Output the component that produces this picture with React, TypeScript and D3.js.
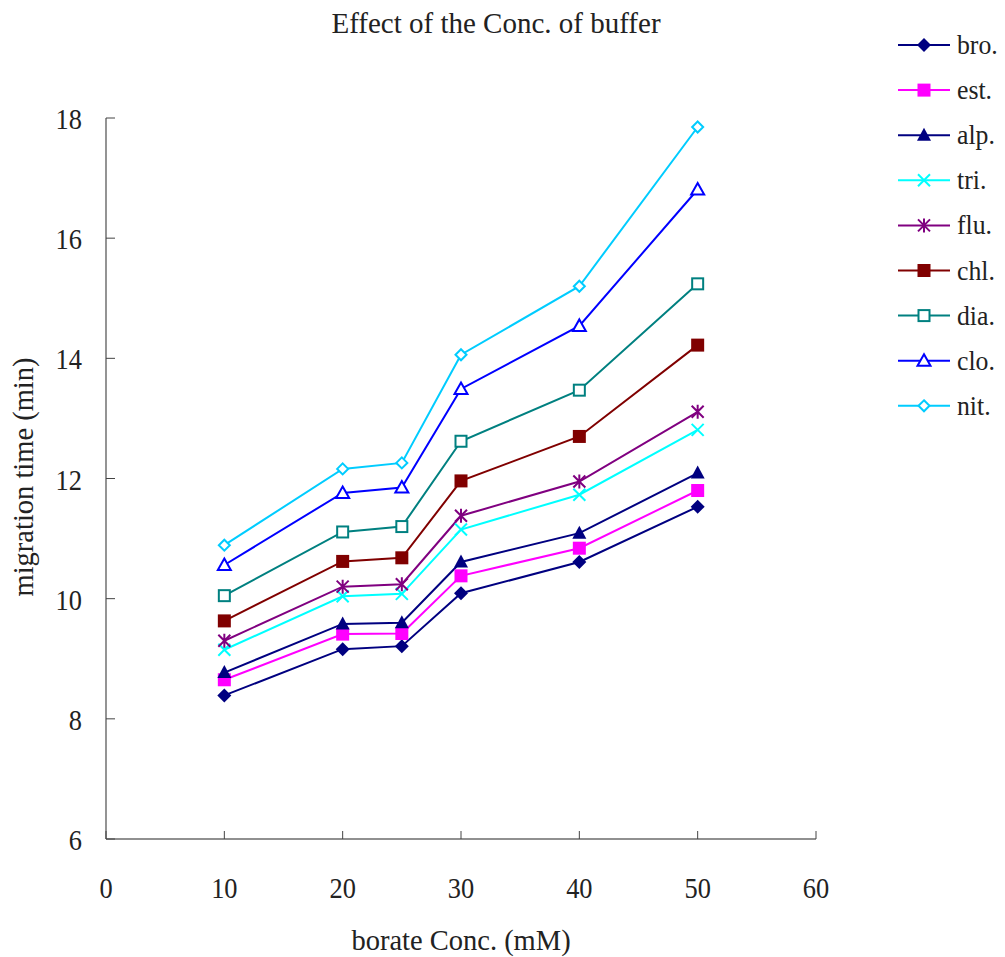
import React from "react";
import * as d3 from "d3";

const concentrations = [10, 20, 25, 30, 40, 50];

const seriesNames = ["bro.", "est.", "alp.", "tri.", "flu.", "chl.", "dia.", "clo.", "nit."];

const bro = [8.39, 9.16, 9.21, 10.09, 10.61, 11.53];
const est = [8.65, 9.41, 9.42, 10.38, 10.84, 11.8];
const alp = [8.77, 9.58, 9.6, 10.61, 11.09, 12.09];
const tri = [9.15, 10.04, 10.08, 11.15, 11.73, 12.81];
const flu = [9.3, 10.2, 10.24, 11.38, 11.95, 13.11];
const chl = [9.63, 10.62, 10.68, 11.96, 12.7, 14.22];
const dia = [10.05, 11.11, 11.2, 12.62, 13.47, 15.24];
const clo = [10.56, 11.76, 11.85, 13.49, 14.54, 16.81];
const nit = [10.89, 12.16, 12.26, 14.06, 15.2, 17.85];

const xTicks = [0, 10, 20, 30, 40, 50, 60];
const yTicks = [6, 8, 10, 12, 14, 16, 18];

type MarkerKind = "diamond" | "square" | "triangle" | "x" | "star" | "squareOpen" | "triangleOpen" | "diamondOpen";

const styles: { color: string; marker: MarkerKind }[] = [
  { color: "#000080", marker: "diamond" },
  { color: "#FF00FF", marker: "square" },
  { color: "#000080", marker: "triangle" },
  { color: "#00FFFF", marker: "x" },
  { color: "#800080", marker: "star" },
  { color: "#800000", marker: "square" },
  { color: "#008080", marker: "squareOpen" },
  { color: "#0000FF", marker: "triangleOpen" },
  { color: "#00CCFF", marker: "diamondOpen" },
];

const allSeries = [bro, est, alp, tri, flu, chl, dia, clo, nit];

const FONT = "'Liberation Serif', 'DejaVu Serif', serif";

// Narrow serif text: drawn at a size, then squeezed horizontally.
function NarrowText({
  x,
  y,
  size,
  squeeze,
  anchor,
  children,
}: {
  x: number;
  y: number;
  size: number;
  squeeze: number;
  anchor: "start" | "middle" | "end";
  children: React.ReactNode;
}) {
  return (
    <text
      transform={`translate(${x},${y}) scale(${squeeze},1)`}
      textAnchor={anchor}
      fontFamily={FONT}
      fontSize={size}
      fill="#222"
    >
      {children}
    </text>
  );
}

function Marker({ kind, color, x, y }: { kind: MarkerKind; color: string; x: number; y: number }) {
  const t = `translate(${x},${y})`;
  switch (kind) {
    case "diamond":
      return <path transform={t} d="M0,-7L7,0L0,7L-7,0Z" fill={color} />;
    case "diamondOpen":
      return <path transform={t} d="M0,-5.5L5.5,0L0,5.5L-5.5,0Z" fill="white" stroke={color} strokeWidth={2} />;
    case "square":
      return <rect transform={t} x={-6.5} y={-6.5} width={13} height={13} fill={color} />;
    case "squareOpen":
      return <rect transform={t} x={-5.5} y={-5.5} width={11} height={11} fill="white" stroke={color} strokeWidth={2} />;
    case "triangle":
      return <path transform={t} d="M0,-7.5L7,5.5L-7,5.5Z" fill={color} />;
    case "triangleOpen":
      return <path transform={t} d="M0,-6.5L6.5,5L-6.5,5Z" fill="white" stroke={color} strokeWidth={2} />;
    case "x":
      return <path transform={t} d="M-6,-6L6,6M-6,6L6,-6" stroke={color} strokeWidth={2} fill="none" />;
    case "star":
      return <path transform={t} d="M-6,-6L6,6M-6,6L6,-6M0,-7L0,7" stroke={color} strokeWidth={2} fill="none" />;
  }
}

export default function App() {
  const width = 1005;
  const height = 957;
  const x = d3.scaleLinear().domain([0, 60]).range([106, 816]);
  const y = d3.scaleLinear().domain([6, 18]).range([839, 118]);
  const line = d3
    .line<number>()
    .x((_, i) => x(concentrations[i]))
    .y((d) => y(d));

  const legendX = 898;
  const legendY0 = 45;
  const legendStep = 45.1;

  return (
    <svg
      width={width}
      height={height}
      style={{ position: "absolute", left: 0, top: 0, background: "white" }}
    >
      <rect width={width} height={height} fill="white" />
      <NarrowText x={496} y={33} size={29} squeeze={1} anchor="middle">
        Effect of the Conc. of buffer
      </NarrowText>

      {/* axes */}
      <line x1={x(0)} x2={x(60)} y1={y(6)} y2={y(6)} stroke="#222" strokeWidth={1.2} />
      <line x1={x(0)} x2={x(0)} y1={y(6)} y2={y(18)} stroke="#666" strokeWidth={1.4} />
      {xTicks.map((t) => (
        <g key={"xt" + t}>
          <line x1={x(t)} x2={x(t)} y1={y(6)} y2={y(6) - 8} stroke="#444" strokeWidth={1} />
          <NarrowText x={x(t)} y={898} size={30} squeeze={0.88} anchor="middle">
            {t}
          </NarrowText>
        </g>
      ))}
      {yTicks.map((t) => (
        <g key={"yt" + t}>
          <line x1={x(0)} x2={x(0) + 9} y1={y(t)} y2={y(t)} stroke="#444" strokeWidth={1} />
          <NarrowText x={82} y={y(t) + 11} size={30} squeeze={0.88} anchor="end">
            {t}
          </NarrowText>
        </g>
      ))}
      <NarrowText x={461} y={950} size={28.5} squeeze={1} anchor="middle">
        borate Conc. (mM)
      </NarrowText>
      <text
        transform={`translate(33,477) rotate(-90)`}
        textAnchor="middle"
        fontFamily={FONT}
        fontSize={28.5}
        fill="#222"
      >
        migration time (min)
      </text>

      {/* series */}
      {allSeries.map((s, i) => (
        <path key={"l" + i} d={line(s) || ""} fill="none" stroke={styles[i].color} strokeWidth={2} />
      ))}
      {allSeries.map((s, i) =>
        s.map((v, j) => (
          <Marker key={`m${i}-${j}`} kind={styles[i].marker} color={styles[i].color} x={x(concentrations[j])} y={y(v)} />
        ))
      )}

      {/* legend */}
      {seriesNames.map((name, i) => {
        const ly = legendY0 + i * legendStep;
        return (
          <g key={"lg" + i}>
            <line x1={legendX} x2={legendX + 52} y1={ly} y2={ly} stroke={styles[i].color} strokeWidth={2} />
            <Marker kind={styles[i].marker} color={styles[i].color} x={legendX + 26} y={ly} />
            <NarrowText x={957} y={ly + 9} size={28} squeeze={0.92} anchor="start">
              {name}
            </NarrowText>
          </g>
        );
      })}
    </svg>
  );
}
